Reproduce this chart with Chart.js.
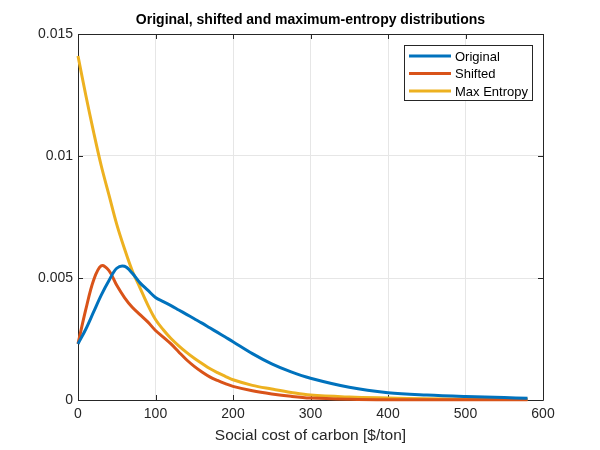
<!DOCTYPE html>
<html>
<head>
<meta charset="utf-8">
<script src="https://cdn.jsdelivr.net/npm/chart.js@4.4.1/dist/chart.umd.min.js"></script>
<style>
    html, body { margin: 0; padding: 0; background: #ffffff; }
    #wrap { width: 600px; height: 450px; }
</style>
</head>
<body>
<div id="wrap"><canvas id="sccChart" width="600" height="450"></canvas></div>
<script>
// ================================
// Data
// ================================

const xValues = [0, 10, 20, 30, 40, 50, 60, 70, 80, 90, 100, 110, 120, 130, 140, 150, 160,
    170, 180, 190, 200, 225, 250, 275, 300, 350, 400, 450, 500, 550, 580];

const original = [0.0023, 0.0029, 0.0036, 0.0043, 0.0049, 0.0054, 0.00548, 0.0052, 0.0048, 0.0045,
    0.0042, 0.00403, 0.00387, 0.00369, 0.00351, 0.00333, 0.00315, 0.00296, 0.00277, 0.00258,
    0.00239, 0.0019, 0.00148, 0.00115, 0.00089, 0.00052, 0.0003, 0.0002, 0.00014, 0.0001, 0.00007];

const shifted = [0.0023, 0.0037, 0.0049, 0.0055, 0.0053, 0.0047, 0.0042, 0.0038, 0.0035, 0.0032,
    0.00285, 0.00258, 0.0023, 0.00197, 0.00165, 0.00138, 0.00115, 0.00095, 0.0008, 0.00067,
    0.00056, 0.00038, 0.00025, 0.00015, 0.00008, 0.00003, 0.00001, 0.00001, 0.00001, 0.00001, 0.00001];

const maxEntropy = [0.0141, 0.0125, 0.0110, 0.0096, 0.0084, 0.0072, 0.0062, 0.0053, 0.0046, 0.0039,
    0.0033, 0.00288, 0.00252, 0.00222, 0.00195, 0.00171, 0.0015, 0.00129, 0.00112, 0.00097,
    0.00083, 0.0006, 0.00045, 0.00031, 0.0002, 0.00012, 0.00008, 0.00005, 0.00004, 0.00003, 0.00003];

const seriesNames = ["Original", "Shifted", "Max Entropy"];
const seriesColors = ["#0072BD", "#D95319", "#EDB120"];

const xTicks = [0, 100, 200, 300, 400, 500, 600];
const yTicks = [0, 0.005, 0.01, 0.015];
const yTickLabels = ["0", "0.005", "0.01", "0.015"];

const titleText = "Original, shifted and maximum-entropy distributions";
const xTitle = "Social cost of carbon [$/ton]";

const axisColor = "#262626";
const gridColor = "#e6e6e6";
const fontFamily = "'Liberation Sans', Arial, Helvetica, sans-serif";

// ================================
// Plugins
// ================================

// title above the axes
const titlePlugin = {
    id: "matlabTitle",
    afterDraw(chart) {
        const c = chart.ctx;
        const a = chart.chartArea;
        c.save();
        c.fillStyle = "#000000";
        c.font = "bold 14px " + fontFamily;
        c.textAlign = "center";
        c.textBaseline = "middle";
        c.fillText(titleText, (a.left + a.right) / 2, 20);
        c.restore();
    }
};

// box round the axes, with inward ticks on all four sides
const boxPlugin = {
    id: "matlabBox",
    beforeDatasetsDraw(chart) {
        const c = chart.ctx;
        const a = chart.chartArea;
        const xs = chart.scales.x;
        const ys = chart.scales.y;
        const len = 5;
        c.save();
        c.strokeStyle = axisColor;
        c.lineWidth = 1;
        c.beginPath();
        c.rect(Math.round(a.left) + 0.5, Math.round(a.top) + 0.5,
            Math.round(a.right - a.left), Math.round(a.bottom - a.top));
        xTicks.forEach(v => {
            const px = Math.round(xs.getPixelForValue(v)) + 0.5;
            c.moveTo(px, a.bottom);
            c.lineTo(px, a.bottom - len);
            c.moveTo(px, a.top);
            c.lineTo(px, a.top + len);
        });
        yTicks.forEach(v => {
            const py = Math.round(ys.getPixelForValue(v)) + 0.5;
            c.moveTo(a.left, py);
            c.lineTo(a.left + len, py);
            c.moveTo(a.right, py);
            c.lineTo(a.right - len, py);
        });
        c.stroke();
        c.restore();
    }
};

// legend box in the upper right corner of the axes
const legendPlugin = {
    id: "matlabLegend",
    afterDatasetsDraw(chart) {
        const c = chart.ctx;
        const a = chart.chartArea;
        const boxW = 128;
        const boxH = 55;
        const x0 = a.right - 11 - boxW;
        const y0 = a.top + 11;
        c.save();
        c.fillStyle = "#ffffff";
        c.fillRect(x0, y0, boxW, boxH);
        c.strokeStyle = axisColor;
        c.lineWidth = 1;
        c.strokeRect(Math.round(x0) + 0.5, Math.round(y0) + 0.5, boxW, boxH);
        c.font = "13px " + fontFamily;
        c.textBaseline = "middle";
        c.textAlign = "left";
        chart.data.datasets.forEach((ds, i) => {
            const cy = y0 + 11 + i * 17.5;
            c.strokeStyle = ds.borderColor;
            c.lineWidth = 3;
            c.beginPath();
            c.moveTo(x0 + 5, cy);
            c.lineTo(x0 + 47, cy);
            c.stroke();
            c.fillStyle = "#000000";
            c.fillText(ds.label, x0 + 51, cy + 1);
        });
        c.restore();
    }
};

// ================================
// Chart
// ================================

function makeSeries(values) {
    return xValues.map((x, i) => ({ x: x, y: values[i] }));
}

const allSeries = [original, shifted, maxEntropy];

const ctx = document.getElementById("sccChart").getContext("2d");

const chart = new Chart(ctx, {
    type: "line",
    data: {
        datasets: allSeries.map((vals, i) => ({
            label: seriesNames[i],
            data: makeSeries(vals),
            borderColor: seriesColors[i],
            backgroundColor: seriesColors[i],
            borderWidth: 3,
            pointRadius: 0,
            tension: 0.35,
            fill: false,
            clip: false
        }))
    },
    options: {
        responsive: false,
        animation: false,
        devicePixelRatio: 1,
        layout: {
            padding: { left: 0, right: 57, top: 34, bottom: 0 }
        },
        plugins: {
            legend: { display: false },
            title: { display: false },
            tooltip: { enabled: false }
        },
        scales: {
            x: {
                type: "linear",
                min: 0,
                max: 600,
                afterBuildTicks: s => { s.ticks = xTicks.map(v => ({ value: v })); },
                afterFit: s => { s.height = 50; },
                ticks: {
                    color: axisColor,
                    font: { family: fontFamily, size: 14 },
                    padding: 6,
                    maxRotation: 0,
                    callback: v => String(v)
                },
                grid: {
                    color: gridColor,
                    drawTicks: false
                },
                border: { display: false },
                title: {
                    display: true,
                    text: xTitle,
                    color: axisColor,
                    font: { family: fontFamily, size: 15.5 },
                    padding: { top: 0, bottom: 5 }
                }
            },
            y: {
                type: "linear",
                min: 0,
                max: 0.015,
                afterBuildTicks: s => { s.ticks = yTicks.map(v => ({ value: v })); },
                afterFit: s => { s.width = 78; },
                ticks: {
                    color: axisColor,
                    font: { family: fontFamily, size: 14 },
                    padding: 5,
                    callback: (v, i) => yTickLabels[i]
                },
                grid: {
                    color: gridColor,
                    drawTicks: false
                },
                border: { display: false }
            }
        }
    },
    plugins: [boxPlugin, legendPlugin, titlePlugin]
});
</script>
</body>
</html>
